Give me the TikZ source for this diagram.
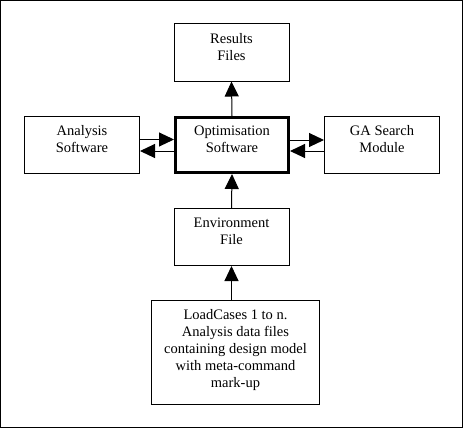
\documentclass[tikz,border=0pt]{standalone}
\usepackage{fontspec}
\setmainfont{Liberation Serif}
\usetikzlibrary{arrows.meta}
\begin{document}
\begin{tikzpicture}[x=1pt,y=1pt,
  box/.style={draw, line width=1pt, minimum width=115pt, minimum height=57pt, inner sep=0pt},
  thickbox/.style={draw, line width=3pt, minimum width=113pt, minimum height=55pt, inner sep=0pt},
  txt/.style={anchor=north, inner sep=0pt, align=center, font=\fontsize{14.5}{17}\selectfont},
  arr/.style={line width=1pt, -{Triangle[length=15pt, width=14pt]}}]
\useasboundingbox (0,0) rectangle (463,-428);
\draw[line width=1pt] (0.5,-0.5) rectangle (462.5,-427.5);
\node[box] (res) at (231.5,-52.5) {};
\node[box] (ana) at (82,-145) {};
\node[thickbox] (opt) at (232,-145) {};
\node[box] (ga) at (382,-145) {};
\node[box] (env) at (231.5,-237) {};
\node[box, minimum width=168pt, minimum height=104pt] (lc) at (235.5,-352) {};
\node[txt] (tres) at ([yshift=-9.5pt]res.north) {Results\\Files};
\node[txt] (tana) at ([yshift=-9.5pt]ana.north) {Analysis\\Software};
\node[txt] (topt) at ([yshift=-9.5pt]opt.north) {Optimisation\\Software};
\node[txt] (tga) at ([yshift=-9.5pt]ga.north) {GA Search\\Module};
\node[txt] (tenv) at ([yshift=-9.5pt]env.north) {Environment\\File};
\node[txt] (tlc) at ([yshift=-9.5pt]lc.north) {LoadCases 1 to n.\\Analysis data files\\containing design model\\with meta-command\\mark-up};
\draw[arr] (opt.north) -- (res.south);
\draw[arr] ([yshift=5.5pt]ana.east) -- ([yshift=5.5pt]ana.east -| opt.west);
\draw[arr] ([yshift=-6pt]opt.west) -- ([yshift=-6pt]opt.west -| ana.east);
\draw[arr] ([yshift=5pt]opt.east) -- ([yshift=5pt]opt.east -| ga.west);
\draw[arr] ([yshift=-6pt]ga.west) -- ([yshift=-6pt]ga.west -| opt.east);
\draw[arr] (env.north) -- (opt.south);
\draw[arr] (lc.north -| env.south) -- (env.south);
\end{tikzpicture}
\end{document}
